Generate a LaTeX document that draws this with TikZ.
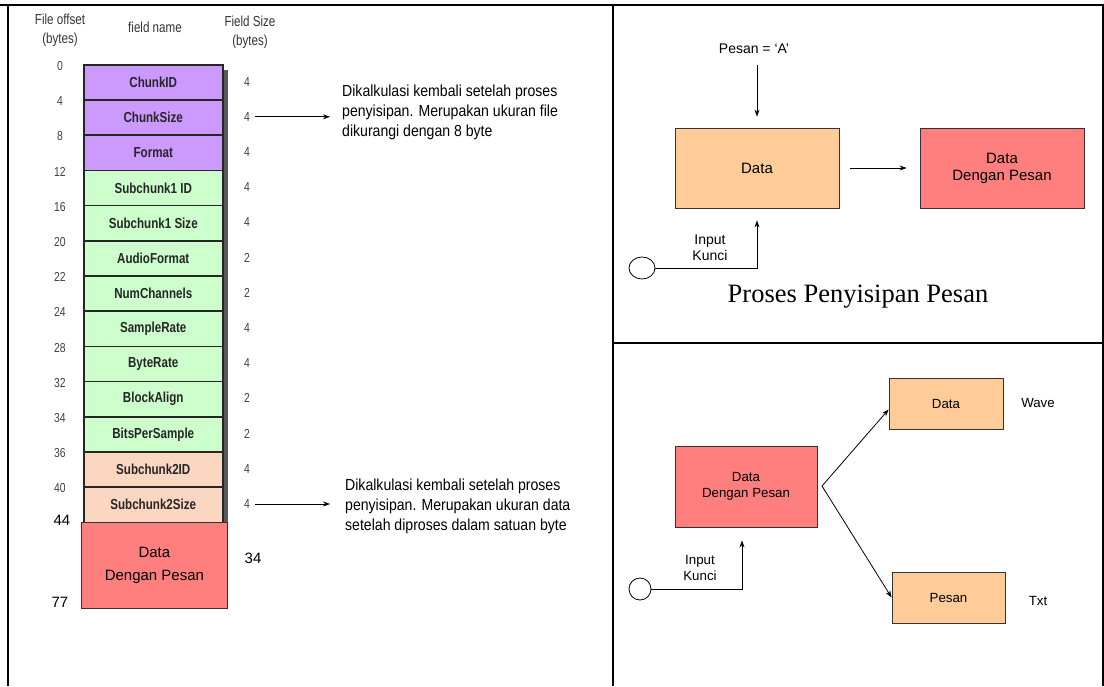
\documentclass[tikz,border=0pt]{standalone}
\usepackage{fontspec}
\setmainfont{Liberation Sans}
\newfontfamily\narrowfont[FakeStretch=0.88]{Liberation Sans}
\newfontfamily\fieldfont[FakeStretch=0.8]{Liberation Sans}
\newfontfamily\titlefont{Liberation Serif}
\usetikzlibrary{shapes.geometric, positioning, arrows.meta}

\definecolor{chunkpurple}{HTML}{CC99FF}
\definecolor{fmtgreen}{HTML}{CCFFCC}
\definecolor{datapeach}{HTML}{FBD7C2}
\definecolor{msgred}{HTML}{FF7F7F}
\definecolor{boxpeach}{HTML}{FFCC99}

\tikzset{
  field/.style={draw=black!85, line width=1.5pt, anchor=north west, inner sep=0pt,
    minimum width=139, minimum height=35.2,
    font=\fieldfont\bfseries\fontsize{14.5}{16}\selectfont, text=black!85},
  sizelbl/.style={font=\fieldfont\fontsize{13}{15}\selectfont, text=black!75},
  offlbl/.style={font=\fieldfont\fontsize{13}{15}\selectfont, text=black!75},
  bigoff/.style={font=\fontsize{15}{17}\selectfont},
  head/.style={align=center, font=\fieldfont\fontsize{14.5}{19}\selectfont, text=black!80},
  note/.style={anchor=west, align=left, inner sep=0pt,
    font=\narrowfont\fontsize{16}{20}\selectfont},
  blk/.style={draw=black!80, line width=0.8pt, align=center, inner sep=0pt},
  key/.style={draw, ellipse, line width=0.8pt, inner sep=0pt},
  arr/.style={-{Stealth[length=7pt,width=5pt]}, line width=0.8pt},
  frame/.style={line width=2pt},
}

\begin{document}
\begin{tikzpicture}[x=1pt, y=-1pt]
  \useasboundingbox (0,0) rectangle (1104,686);

  % table lines
  \draw[frame] (0,5) -- (1104,5);
  \draw[frame] (8,5) -- (8,686);
  \draw[frame] (613,5) -- (613,686);
  \draw[frame] (1103,5) -- (1103,686);
  \draw[frame] (613,343) -- (1104,343);

  % wave header layout
  \node[head] (hoff) at (60,30) {File offset\\(bytes)};
  \node[head] (hname) at (155,27) {field name};
  \node[head] (hsize) at (250,32) {Field Size\\(bytes)};

  \fill[black!65] (222,70) rectangle (228,522);
  \foreach \name/\col/\size [count=\i from 0] in {
      ChunkID/chunkpurple/4, ChunkSize/chunkpurple/4, Format/chunkpurple/4,
      Subchunk1 ID/fmtgreen/4, Subchunk1 Size/fmtgreen/4, AudioFormat/fmtgreen/2,
      NumChannels/fmtgreen/2, SampleRate/fmtgreen/4, ByteRate/fmtgreen/4,
      BlockAlign/fmtgreen/2, BitsPerSample/fmtgreen/2,
      Subchunk2ID/datapeach/4, Subchunk2Size/datapeach/4} {
    \node[field, fill=\col] (f\i) at (83,64+\i*35.2) {\name};
    \node[sizelbl] (s\i) at (247,81.6+\i*35.2) {\size};
  }
  \foreach \off [count=\i from 0] in {0,4,8,12,16,20,22,24,28,32,34,36,40}
    \node[offlbl] (o\i) at (60,66+\i*35.2) {\off};

  \node[blk, fill=msgred, anchor=north west, minimum width=146, minimum height=86,
    font=\fontsize{15}{23}\selectfont] (body) at (81,522) {Data\\Dengan Pesan};
  \node[bigoff] (o44) at (62,520) {44};
  \node[bigoff] (o77) at (60,602) {77};
  \node[bigoff] (s34) at (253,558) {34};

  % notes on the recomputed sizes
  \node[note] (note1) at (342,112) {Dikalkulasi kembali setelah proses\\
    penyisipan. Merupakan ukuran file\\dikurangi dengan 8 byte};
  \node[note] (note2) at (345,506) {Dikalkulasi kembali setelah proses\\
    penyisipan. Merupakan ukuran data\\setelah diproses dalam satuan byte};
  \draw[arr] ([xshift=2]s1.east) -- ([xshift=-12]note1.west |- s1);
  \draw[arr] ([xshift=2]s12.east) -- ([xshift=-15]note2.west |- s12);

  % embedding
  \node[font=\fontsize{14}{16}\selectfont] (msg) at (754,49) {Pesan = `A'};
  \node[blk, fill=boxpeach, minimum width=164, minimum height=80,
    font=\fontsize{15}{17}\selectfont] (data1) at (757,168) {Data};
  \node[blk, fill=msgred, minimum width=164, minimum height=80,
    font=\fontsize{15}{17}\selectfont] (res1) at (1002,168) {Data\\Dengan Pesan};
  \node[key, minimum width=26, minimum height=22] (key1) at (642,268) {};
  \node[align=center, font=\fontsize{14}{16}\selectfont] (in1) at (710,248) {Input\\Kunci};
  \draw[arr, shorten <=8, shorten >=11] (data1.north |- msg.south) -- (data1.north);
  \draw[arr, shorten <=11, shorten >=13] (data1) -- (res1);
  \draw[arr] (key1.east) -| ([yshift=-12]data1.south);
  \node[font=\titlefont\fontsize{26.5}{30}\selectfont] (title1) at (858,297) {Proses Penyisipan Pesan};

  % extraction
  \node[blk, fill=msgred, minimum width=142, minimum height=81,
    font=\fontsize{13.3}{16}\selectfont] (res2) at (746,486.5) {Data\\Dengan Pesan};
  \node[blk, fill=boxpeach, minimum width=114, minimum height=51,
    font=\fontsize{13.3}{16}\selectfont] (out1) at (946,403.5) {Data};
  \node[blk, fill=boxpeach, minimum width=113, minimum height=51,
    font=\fontsize{13.3}{16}\selectfont] (out2) at (948.5,597.5) {Pesan};
  \node[font=\fontsize{13.3}{16}\selectfont] (wave) at (1038,403) {Wave};
  \node[font=\fontsize{13.3}{16}\selectfont] (txt) at (1038,601) {Txt};
  \coordinate (split) at (822,486);
  \draw[arr] (split) -- ([yshift=-6]out1.west);
  \draw[arr] (split) -- (out2.west);
  \node[key, minimum width=22, minimum height=22] (key2) at (640,589) {};
  \node[align=center, font=\fontsize{13.3}{16}\selectfont] (in2) at (700,568) {Input\\Kunci};
  \draw[arr] (key2.east) -| ([xshift=-4,yshift=-13]res2.south);
\end{tikzpicture}
\end{document}
